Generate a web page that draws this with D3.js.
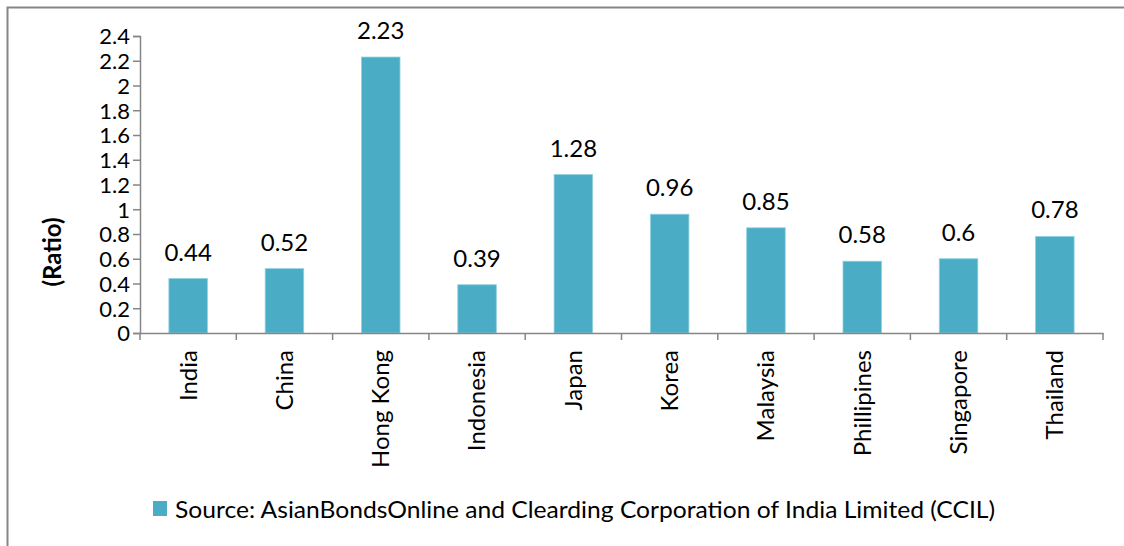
<!DOCTYPE html>
<html>
<head>
<meta charset="utf-8">
<script src="https://cdn.jsdelivr.net/npm/d3@7"></script>
<style>
  body { margin: 0; background: #fff; }
  svg text { font-family: Lato, "Open Sans", sans-serif; fill: #000; }
</style>
</head>
<body>
<svg id="chart" width="1124" height="546"></svg>
<script>
const countries = ["India", "China", "Hong Kong", "Indonesia", "Japan", "Korea", "Malaysia", "Phillipines", "Singapore", "Thailand"];
const ratios = [0.44, 0.52, 2.23, 0.39, 1.28, 0.96, 0.85, 0.58, 0.6, 0.78];
const yTicks = [0, 0.2, 0.4, 0.6, 0.8, 1, 1.2, 1.4, 1.6, 1.8, 2, 2.2, 2.4];
const legendLabel = "Source: AsianBondsOnline and Clearding Corporation of India Limited (CCIL)";

const svg = d3.select("#chart");
const axisColor = "#868686";
const barColor = "#4bacc6";
const fontSize = 24;

// outer chart frame (only top and left edges are visible in the crop)
svg.append("path")
    .attr("d", "M7.5,546V7.5H1124")
    .attr("fill", "none")
    .attr("stroke", axisColor)
    .attr("stroke-width", 2);

const plot = { left: 140, right: 1103, top: 36, bottom: 333 };

const x = d3.scaleBand()
    .domain(countries)
    .range([plot.left, plot.right])
    .paddingInner(0.6)
    .paddingOuter(0.3);

const y = d3.scaleLinear()
    .domain([0, 2.4])
    .range([plot.bottom, plot.top]);

// bars
svg.append("g")
    .selectAll("rect")
    .data(countries)
    .enter().append("rect")
    .attr("x", d => x(d))
    .attr("y", (d, i) => y(ratios[i]))
    .attr("width", x.bandwidth())
    .attr("height", (d, i) => y(0) - y(ratios[i]))
    .attr("fill", barColor)
    .attr("stroke", "#8fd0e0")
    .attr("stroke-width", 0.8);

// value labels
svg.append("g")
    .selectAll("text")
    .data(countries)
    .enter().append("text")
    .attr("x", d => x(d) + x.bandwidth() / 2)
    .attr("y", (d, i) => y(ratios[i]) - 18)
    .attr("text-anchor", "middle")
    .attr("font-size", fontSize)
    .text((d, i) => ratios[i]);

// y axis
const yAxis = svg.append("g")
    .attr("transform", `translate(${plot.left},0)`)
    .call(d3.axisLeft(y).tickValues(yTicks).tickSize(7).tickPadding(3).tickFormat(d => d3.format("")(+d.toFixed(1))));
yAxis.select(".domain").attr("stroke", axisColor).attr("stroke-width", 1.5);
yAxis.selectAll(".tick line").attr("stroke", axisColor).attr("stroke-width", 1.5);
yAxis.selectAll(".tick text").attr("font-size", 22).attr("dy", "0.36em");

// x axis, ticks between categories
const xAxis = svg.append("g")
    .attr("transform", `translate(0,${plot.bottom})`)
    .call(d3.axisBottom(x).tickSize(0).tickSizeOuter(0).tickPadding(0));
xAxis.select(".domain").attr("stroke", axisColor).attr("stroke-width", 1.5);
xAxis.selectAll(".tick text")
    .attr("font-size", fontSize)
    .attr("text-anchor", "end")
    .attr("transform", "rotate(-90)")
    .attr("x", -17)
    .attr("y", 0)
    .attr("dy", "0.35em");

const step = x.step();
const boundaries = d3.range(countries.length + 1).map(i => plot.left + i * step);
xAxis.selectAll(".sep")
    .data(boundaries)
    .enter().append("line")
    .attr("class", "sep")
    .attr("x1", d => d).attr("x2", d => d)
    .attr("y1", 0).attr("y2", 7)
    .attr("stroke", axisColor)
    .attr("stroke-width", 1.5);

// y axis title
svg.append("text")
    .attr("transform", "translate(61,252) rotate(-90)")
    .attr("text-anchor", "middle")
    .attr("font-size", fontSize)
    .attr("font-weight", "bold")
    .text("(Ratio)");

// legend
svg.append("rect")
    .attr("x", 153).attr("y", 501)
    .attr("width", 14).attr("height", 15)
    .attr("fill", barColor);
svg.append("text")
    .attr("x", 175).attr("y", 518)
    .attr("font-size", fontSize)
    .attr("textLength", 820)
    .attr("lengthAdjust", "spacingAndGlyphs")
    .text(legendLabel);
</script>
</body>
</html>
